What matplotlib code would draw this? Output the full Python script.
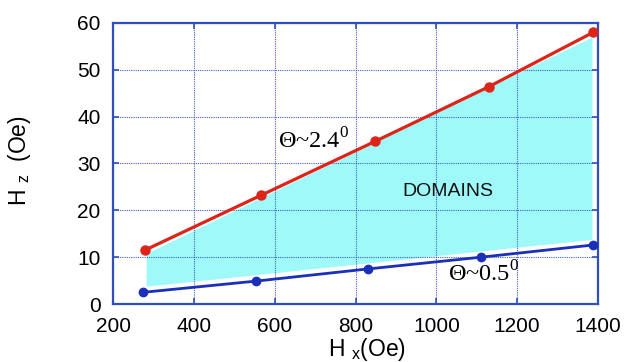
import matplotlib
matplotlib.use("Agg")
import matplotlib.pyplot as plt

# field values
hx_red = [279, 566, 848, 1130, 1388]
hz_red = [11.5, 23.2, 34.7, 46.4, 58.0]
hx_blue = [275, 555, 832, 1111, 1388]
hz_blue = [2.5, 4.9, 7.5, 10.0, 12.6]

# shaded "domains" region (slightly inset from the two lines)
fill_x = [282, 1385]
fill_lo = [3.8, 13.8]
fill_hi = [10.8, 57.0]

xticks = [200, 400, 600, 800, 1000, 1200, 1400]
yticks = [0, 10, 20, 30, 40, 50, 60]

plt.rcParams['font.family'] = ['Liberation Sans', 'DejaVu Sans']
plt.rcParams['mathtext.fontset'] = 'custom'
plt.rcParams['mathtext.rm'] = 'Liberation Serif'
plt.rcParams['mathtext.sf'] = 'Liberation Sans'

frame_blue = '#2f4fbf'

fig = plt.figure(figsize=(6.37, 3.62), dpi=100)
ax = fig.add_axes([0.1774, 0.1602, 0.7614, 0.7763])

ax.fill_between(fill_x, fill_lo, fill_hi, color='#a0f9f9', lw=0, zorder=1)
ax.plot(hx_red, hz_red, '-o', color='#dd2418', lw=2.3, ms=6.5, zorder=3)
ax.plot(hx_blue, hz_blue, '-o', color='#1a30b8', lw=2.0, ms=6, zorder=3)

ax.set_xlim(200, 1400)
ax.set_ylim(0, 60)
ax.set_xticks(xticks)
ax.set_yticks(yticks)
ax.grid(True, color=frame_blue, ls=(0, (1, 1)), lw=0.8, alpha=0.9, zorder=2)
ax.set_axisbelow(False)
for s in ax.spines.values():
    s.set_color(frame_blue)
    s.set_linewidth(1.6)
ax.tick_params(direction='in', length=4, width=1.2, color=frame_blue,
               top=True, right=True, labelsize=15, pad=9)

ax.set_ylabel(r'H $\mathsf{_z}$  (Oe)', fontsize=16.5)
ax.yaxis.set_label_coords(-0.165, 0.51)
ax.set_xlabel(r'H $\mathsf{_x}$(Oe)', fontsize=16.5)
ax.xaxis.set_label_coords(0.524, -0.115)

ax.text(608, 33.3, 'Θ~2.4$^\\mathrm{0}$', fontsize=17.5,
        family='Liberation Serif', ha='left', va='baseline', zorder=4)
ax.text(1029, 4.8, 'Θ~0.5$^\\mathrm{0}$', fontsize=17.5,
        family='Liberation Serif', ha='left', va='baseline', zorder=4)
ax.text(1029, 23.0, 'DOMAINS', fontsize=14, ha='center', va='baseline',
        color='#111111', zorder=4)

fig.savefig('out.png', dpi=100)
